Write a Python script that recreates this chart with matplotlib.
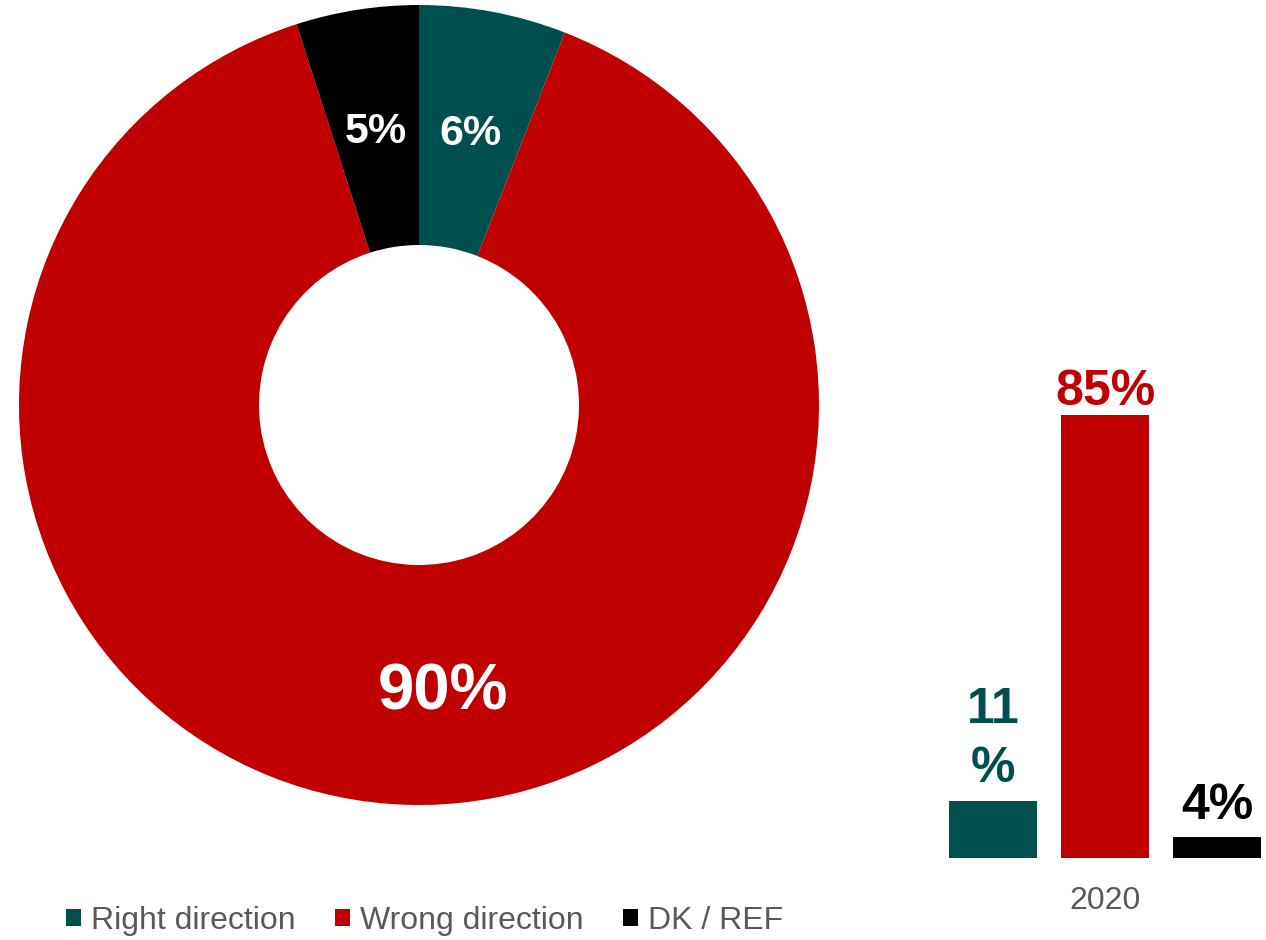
import numpy as np
import matplotlib
matplotlib.use('Agg')
import matplotlib.pyplot as plt

plt.rcParams['font.family'] = ['Liberation Sans', 'DejaVu Sans']

# donut data (current)
pie_labels = ['Right direction', 'Wrong direction', 'DK / REF']
pie_values = [6, 90, 5]
colors = ['#004F4F', '#C00000', '#000000']

# bar data (2020)
bar_values = [11, 85, 4]
bar_text = ['11\n%', '85%', '4%']
bar_year = '2020'

fig = plt.figure(figsize=(12.66, 9.40), dpi=100)

# ---- donut ----
ax = fig.add_axes([19/1266, 1-805/940, 800/1266, 800/940])
wedges, _ = ax.pie(pie_values, colors=colors, startangle=90, counterclock=False,
                   radius=1.0, wedgeprops=dict(width=0.6, linewidth=0))
ax.set_xlim(-1, 1)
ax.set_ylim(-1, 1)
ax.set_aspect('equal')

sizes = [31, 47, 31]
dists = [0.69, 0.72, 0.69]
shift = [0, 6.5, 0]   # label angle tweak, degrees
for w, v, fs, d, sh in zip(wedges, pie_values, sizes, dists, shift):
    ang = np.deg2rad((w.theta1 + w.theta2) / 2 + sh)
    ax.text(d*np.cos(ang), d*np.sin(ang), '%d%%' % v, color='white', fontsize=fs,
            fontweight='bold', ha='center', va='center')

# ---- bars ----
bx = fig.add_axes([943/1266, 82/940, 321.4/1266, 521/940])
xs = np.arange(len(bar_values))
bars = bx.bar(xs, bar_values, width=0.786, color=colors)
bx.set_xlim(-0.45, 2.42)
bx.set_ylim(0, 100)
for s in bx.spines.values():
    s.set_visible(False)
bx.set_yticks([])
bx.set_xticks([1], [bar_year], fontsize=23, color='#595959')
bx.tick_params(axis='x', length=0, pad=20)

pads = [1.6, 0.0, 1.6]
for b, t, c, p in zip(bars, bar_text, colors, pads):
    bx.text(b.get_x() + b.get_width()/2, b.get_height() + p, t, color=c,
            fontsize=36, fontweight='bold', ha='center', va='bottom',
            linespacing=1.38, clip_on=False)

# ---- legend ----
fig.legend(wedges, pie_labels, loc='center left', bbox_to_anchor=(66/1266, 1-921/940),
           ncol=3, frameon=False, fontsize=23, labelcolor='#595959',
           handlelength=0.47, handleheight=0.47, handletextpad=0.3,
           columnspacing=1.25, borderpad=0, borderaxespad=0)

fig.savefig('out.png', dpi=100)
